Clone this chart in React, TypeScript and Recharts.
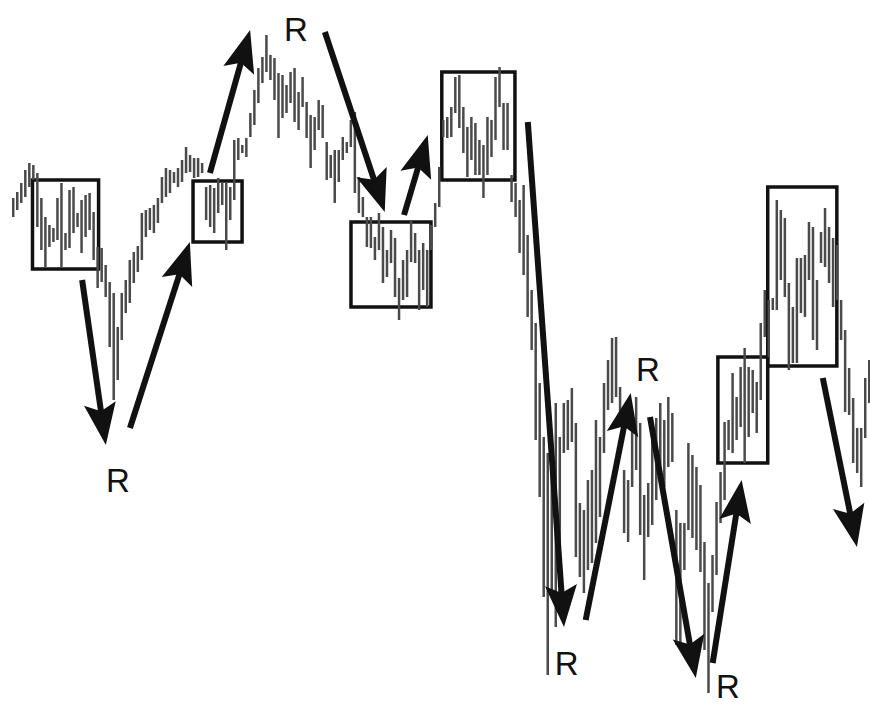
import React from 'react';
import { ComposedChart, Bar, XAxis, YAxis, ReferenceArea, ReferenceLine, ReferenceDot } from 'recharts';

// Level for each price bar (axis is reversed: smaller = higher on screen)
const barTop = [
  198, 192, 183, 170, 163, 165, 173, 198, 217, 225,
  228, 198, 183, 233, 190, 187, 213, 200, 195, 193,
  212, 247, 248, 265, 282, 293, 327, 293, 280, 260,
  252, 246, 213, 210, 208, 205, 198, 177, 168, 170,
  172, 168, 160, 147, 155, 158, 158, 163, 187, 185,
  188, 178, 183, 183, 187, 140, 138, 145, 138, 113,
  90, 68, 57, 35, 55, 58, 73, 75, 85, 72,
  68, 92, 77, 102, 115, 117, 100, 105, 142, 155,
  150, 150, 137, 142, 120, 112, 177, 197, 217, 217,
  237, 213, 227, 250, 230, 238, 278, 260, 250, 220,
  233, 250, 243, 250, 225, 203, 167, 120, 117, 107,
  77, 75, 107, 127, 117, 123, 140, 145, 117, 120,
  77, 67, 103, 103, 175, 183, 200, 185, 235, 290,
  323, 383, 437, 453, 433, 403, 437, 403, 400, 388,
  423, 503, 510, 480, 470, 420, 437, 383, 360, 338,
  337, 387, 470, 480, 415, 397, 423, 495, 483, 435,
  418, 403, 420, 397, 413, 510, 523, 523, 443, 455,
  467, 485, 542, 583, 555, 502, 472, 422, 420, 373,
  397, 367, 348, 367, 370, 382, 323, 290, 300, 298,
  200, 210, 218, 283, 307, 258, 258, 255, 222, 227,
  280, 232, 208, 227, 238, 245, 300, 330, 368, 398,
  428, 428, 378, 360,
];
const barBottom = [
  217, 210, 203, 197, 187, 180, 227, 250, 268, 247,
  242, 240, 267, 250, 248, 233, 227, 253, 237, 230,
  260, 288, 282, 297, 347, 400, 380, 340, 313, 303,
  283, 272, 260, 237, 230, 233, 223, 203, 197, 193,
  183, 187, 182, 173, 172, 178, 177, 173, 220, 227,
  233, 213, 205, 250, 220, 200, 160, 153, 157, 137,
  125, 103, 83, 72, 80, 100, 138, 118, 113, 103,
  122, 130, 107, 138, 168, 150, 130, 138, 180, 178,
  203, 182, 160, 153, 147, 193, 213, 217, 247, 248,
  260, 250, 283, 277, 263, 297, 320, 300, 297, 262,
  263, 310, 290, 307, 250, 227, 207, 137, 138, 137,
  113, 128, 153, 177, 160, 175, 175, 198, 175, 157,
  140, 107, 150, 150, 202, 217, 253, 275, 317, 350,
  440, 497, 597, 675, 597, 627, 597, 453, 450, 442,
  557, 577, 593, 570, 563, 543, 517, 453, 410, 403,
  397, 423, 533, 542, 487, 470, 535, 580, 537, 525,
  500, 465, 487, 467, 462, 645, 650, 570, 530, 538,
  550, 572, 650, 693, 612, 575, 523, 500, 450, 453,
  440, 427, 463, 437, 413, 433, 400, 337, 357, 310,
  310, 280, 297, 370, 363, 363, 313, 317, 280, 340,
  350, 263, 267, 283, 307, 300, 340, 412, 415, 463,
  473, 487, 438, 403,
];

// Rectangles drawn around congestion zones (bar index / level units)
const boxLeft = [4.85, 44.8, 84.1, 106.7, 175.4, 187.8];
const boxRight = [21.3, 57.0, 104.0, 124.9, 187.8, 205.0];
const boxTop = [180, 181, 222, 72, 357, 187];
const boxBottom = [269, 242, 307, 180, 463, 366];

// Arrows (tail -> head) in bar index / level units
const arrowFromX = [17.2, 29.1, 49.0, 77.6, 97.3, 128.1, 142.5, 158.5, 174.1, 201.5];
const arrowFromY = [280, 428, 173, 32, 215, 122, 620, 417, 663, 378];
const arrowToX = [23.1, 44.0, 59.0, 92.5, 103.2, 137.1, 153.7, 169.9, 181.3, 210.0];
const arrowToY = [445, 242, 30, 212, 135, 627, 393, 678, 480, 547];

// "R" labels
const labelX = [26.1, 70.4, 137.8, 158.0, 177.9];
const labelY = [480, 29, 663, 369, 686];
const labelText = ['R', 'R', 'R', 'R', 'R'];

const data = barTop.map((t, i) => ({ i, range: [t, barBottom[i]] }));
const lastIndex = barTop.length - 1;

const INK = '#111111';

const ArrowShape = (p: any) => {
  const { x1, y1, x2, y2 } = p;
  if ([x1, y1, x2, y2].some((v) => typeof v !== 'number' || isNaN(v))) return <g />;
  const dx = x2 - x1;
  const dy = y2 - y1;
  const len = Math.hypot(dx, dy) || 1;
  const ux = dx / len;
  const uy = dy / len;
  const headL = 42;
  const headW = 16;
  const notch = 8;
  const bx = x2 - ux * headL;
  const by = y2 - uy * headL;
  const nx = -uy;
  const ny = ux;
  const pts = [
    [x2, y2],
    [bx + nx * headW, by + ny * headW],
    [bx + ux * notch, by + uy * notch],
    [bx - nx * headW, by - ny * headW],
  ]
    .map((q) => `${q[0]},${q[1]}`)
    .join(' ');
  return (
    <g>
      <line x1={x1} y1={y1} x2={bx + ux * 12} y2={by + uy * 12} stroke={INK} strokeWidth={6} />
      <polygon points={pts} fill={INK} />
    </g>
  );
};

const LabelShape = (text: string) => (p: any) => {
  const { cx, cy } = p;
  if (typeof cx !== 'number' || typeof cy !== 'number') return <g />;
  return (
    <text
      x={cx}
      y={cy}
      textAnchor="middle"
      dominantBaseline="central"
      fontFamily="'Liberation Sans', Arial, sans-serif"
      fontSize={33}
      fill={INK}
    >
      {text}
    </text>
  );
};

export default function App() {
  return (
    <div style={{ position: 'absolute', left: 0, top: 0, width: 870, height: 706, background: '#ffffff' }}>
      <ComposedChart
        width={870}
        height={706}
        data={data}
        margin={{ top: 0, right: 1, bottom: 0, left: 13 }}
      >
        <XAxis type="number" dataKey="i" domain={[0, lastIndex]} hide />
        <YAxis type="number" domain={[0, 706]} reversed hide />
        <Bar dataKey="range" barSize={2.5} fill="#4a4a4a" isAnimationActive={false} />
        {boxLeft.map((x, k) => (
          <ReferenceArea
            key={`box-${k}`}
            x1={x}
            x2={boxRight[k]}
            y1={boxTop[k]}
            y2={boxBottom[k]}
            stroke={INK}
            strokeWidth={3.5}
            fill="none"
            fillOpacity={0}
            ifOverflow="visible"
          />
        ))}
        {arrowFromX.map((x, k) => (
          <ReferenceLine
            key={`arrow-${k}`}
            segment={[
              { x, y: arrowFromY[k] },
              { x: arrowToX[k], y: arrowToY[k] },
            ]}
            ifOverflow="visible"
            shape={ArrowShape}
          />
        ))}
        {labelX.map((x, k) => (
          <ReferenceDot
            key={`label-${k}`}
            x={x}
            y={labelY[k]}
            r={0}
            ifOverflow="visible"
            shape={LabelShape(labelText[k])}
          />
        ))}
      </ComposedChart>
    </div>
  );
}
